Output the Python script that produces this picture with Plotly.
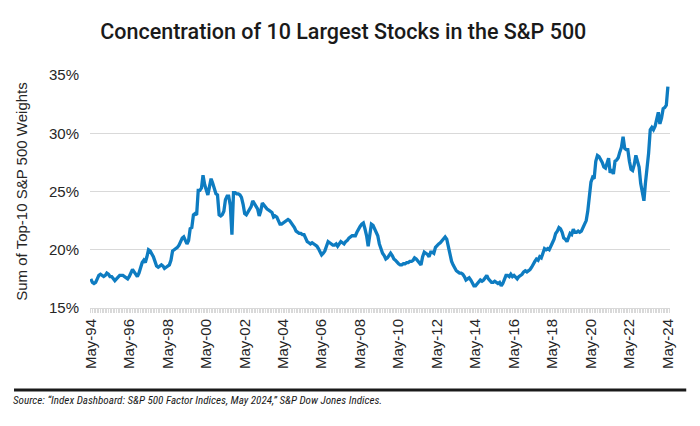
import pandas as pd
import plotly.graph_objects as go

# Sum of top-10 weights in the S&P 500 (%), monthly
y1994 = [17.5, 17.2, 17.1, 17.2, 17.5, 17.8, 17.9, 17.8]  # May-Dec
y1995 = [17.7, 17.8, 18.0, 17.9, 17.7, 17.7, 17.5, 17.35, 17.5, 17.7, 17.8, 17.8]
y1996 = [17.8, 17.7, 17.6, 17.5, 17.7, 18.0, 18.3, 18.1, 17.9, 17.7, 18.0, 18.5]
y1997 = [18.9, 19.1, 18.9, 19.4, 20.0, 19.9, 19.7, 19.4, 19.0, 18.6, 18.5, 18.6]
y1998 = [18.7, 18.6, 18.4, 18.5, 18.6, 18.7, 19.1, 19.9, 20.0, 20.1, 20.2, 20.4]
y1999 = [20.8, 21.0, 21.1, 20.8, 20.5, 20.8, 21.8, 21.9, 23.0, 23.1, 23.0, 25.1]
y2000 = [25.1, 25.3, 26.4, 25.6, 25.0, 24.7, 25.4, 26.1, 25.7, 25.3, 24.8, 24.7]
y2001 = [23.0, 22.9, 23.0, 23.3, 24.3, 24.6, 24.6, 23.8, 21.3, 24.9, 24.9, 24.8]
y2002 = [24.8, 24.7, 24.5, 23.9, 23.1, 23.0, 23.2, 23.4, 23.7, 24.2, 24.0, 23.8]
y2003 = [23.5, 22.9, 23.3, 24.0, 23.8, 23.7, 23.5, 23.4, 23.3, 23.2, 22.8, 22.9]
y2004 = [22.8, 22.5, 22.2, 22.2, 22.3, 22.4, 22.5, 22.6, 22.5, 22.3, 22.2, 21.9]
y2005 = [21.6, 21.5, 21.4, 21.4, 21.3, 21.3, 20.9, 20.7, 20.6, 20.5, 20.6, 20.5]
y2006 = [20.4, 20.3, 20.1, 19.8, 19.55, 19.7, 19.9, 20.3, 20.7, 20.6, 20.5, 20.4]
y2007 = [20.4, 20.5, 20.3, 20.5, 20.7, 20.6, 20.5, 20.7, 20.8, 21.0, 21.1, 21.2]
y2008 = [21.2, 21.2, 21.5, 21.8, 22.0, 22.2, 22.3, 21.8, 21.2, 20.3, 21.3, 22.2]
y2009 = [22.1, 21.8, 21.4, 21.2, 20.5, 20.0, 19.7, 19.5, 19.2, 19.3, 19.5, 19.7]
y2010 = [19.5, 19.2, 19.1, 18.9, 18.8, 18.7, 18.7, 18.8, 18.8, 18.9, 18.9, 19.0]
y2011 = [19.0, 19.1, 19.3, 19.2, 19.0, 18.8, 18.7, 19.4, 19.8, 19.7, 19.6, 19.4]
y2012 = [19.8, 19.8, 19.7, 20.2, 20.4, 20.5, 20.6, 20.8, 21.0, 21.1, 20.9, 20.3]
y2013 = [19.4, 19.0, 18.7, 18.4, 18.2, 18.1, 18.0, 18.0, 17.9, 17.7, 17.4, 17.5]
y2014 = [17.6, 17.4, 17.2, 16.9, 16.9, 17.1, 17.3, 17.4, 17.3, 17.4, 17.6, 17.8]
y2015 = [17.5, 17.3, 17.2, 17.2, 17.3, 17.2, 17.1, 17.2, 16.9, 17.1, 17.4, 17.8]
y2016 = [17.8, 17.7, 17.9, 17.7, 17.8, 17.6, 17.5, 17.7, 17.8, 17.9, 18.1, 18.2]
y2017 = [18.1, 18.2, 18.3, 18.5, 18.8, 19.0, 19.2, 19.1, 19.4, 19.3, 19.7, 20.1]
y2018 = [20.0, 20.1, 20.0, 20.4, 20.6, 20.9, 21.4, 21.6, 21.9, 21.8, 21.5, 21.0]
y2019 = [20.9, 20.7, 21.1, 21.4, 21.3, 21.75, 21.5, 21.5, 21.6, 21.5, 21.6, 21.9]
y2020 = [22.2, 22.5, 23.3, 24.4, 25.8, 26.2, 26.1, 27.6, 28.1, 28.0, 27.8, 27.5]
y2021 = [27.1, 27.0, 27.4, 27.85, 26.6, 26.9, 26.5, 27.6, 27.7, 27.9, 28.4, 28.8]
y2022 = [29.7, 28.7, 28.6, 28.6, 27.6, 26.9, 26.8, 27.3, 28.1, 27.7, 27.1, 25.7]
y2023 = [24.7, 24.2, 25.7, 27.0, 28.3, 30.3, 30.5, 30.3, 30.6, 31.2, 31.8, 30.8]
y2024 = [31.3, 32.1, 32.2, 32.4, 34.0]  # Jan-May

weights = (y1994 + y1995 + y1996 + y1997 + y1998 + y1999 + y2000 + y2001
           + y2002 + y2003 + y2004 + y2005 + y2006 + y2007 + y2008 + y2009
           + y2010 + y2011 + y2012 + y2013 + y2014 + y2015 + y2016 + y2017
           + y2018 + y2019 + y2020 + y2021 + y2022 + y2023 + y2024)
months = pd.date_range("1994-05-01", periods=len(weights), freq="MS")

title = "Concentration of 10 Largest Stocks in the S&P 500"
y_title = "Sum of Top-10 S&P 500 Weights"
source = "Source: \u201cIndex Dashboard: S&P 500 Factor Indices, May 2024,\u201d S&P Dow Jones Indices."

fig = go.Figure()
fig.add_trace(go.Scatter(
    x=months,
    y=weights,
    mode="lines",
    line={"color": "#0E7CC1", "width": 3.3},
    showlegend=False,
))

fig.update_layout(
    width=700,
    height=426,
    margin={"l": 82, "r": 38, "t": 67, "b": 126, "autoexpand": False},
    paper_bgcolor="white",
    plot_bgcolor="white",
    font={"family": "Arial, Liberation Sans, sans-serif", "color": "#262626"},
    title={
        "text": title,
        "x": 0.479,
        "xanchor": "center",
        "y": 0.944,
        "yanchor": "middle",
        "font": {"family": "Roboto", "size": 21.5, "color": "#1a1a1a", "weight": 500},
    },
    xaxis={
        "type": "date",
        "range": ["1994-04-16", "2024-06-10"],
        "tick0": "1994-05-01",
        "dtick": "M24",
        "tickformat": "%b-%y",
        "tickangle": -90,
        "tickfont": {"size": 15},
        "ticks": "outside",
        "ticklen": 4,
        "tickcolor": "#d9d9d9",
        "showgrid": False,
        "showline": True,
        "linecolor": "#d9d9d9",
        "linewidth": 1,
        "automargin": False,
        "minor": {"dtick": "M1", "ticks": "outside", "ticklen": 4, "tickcolor": "#d9d9d9"},
    },
    yaxis={
        "range": [15, 35],
        "dtick": 5,
        "ticksuffix": "%",
        "tickfont": {"size": 15},
        "ticklabelstandoff": 10,
        "showgrid": True,
        "gridcolor": "#d9d9d9",
        "gridwidth": 1,
        "zeroline": False,
        "automargin": False,
        "title": {"text": y_title, "font": {"size": 15}, "standoff": 17},
    },
)

fig.add_shape(
    type="line", xref="paper", yref="paper",
    x0=-0.131, x1=1.028, y0=-0.352, y1=-0.352,
    line={"color": "#1a1a1a", "width": 3},
)
fig.add_annotation(
    text=source, xref="paper", yref="paper",
    x=-0.137, y=-0.399, xanchor="left", yanchor="middle",
    showarrow=False,
    font={"family": "Liberation Sans Narrow, Roboto Condensed, Roboto", "size": 11.1,
          "color": "#1a1a1a", "style": "italic"},
)

fig.write_html("out.html")
